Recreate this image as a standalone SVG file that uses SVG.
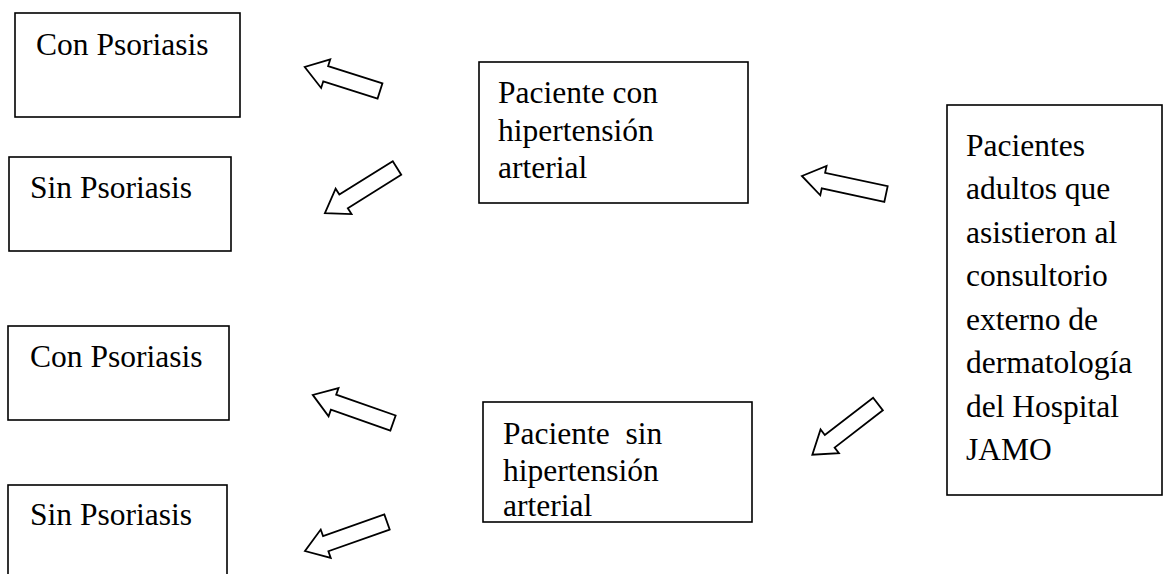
<svg xmlns="http://www.w3.org/2000/svg" width="1170" height="574" viewBox="0 0 1170 574">
<style>
.box{fill:#fff;stroke:#000;stroke-width:1.6}
.t{font-family:'Liberation Serif','Times New Roman',serif;font-size:31.5px;fill:#000}
.arr{fill:#fff;stroke:#000;stroke-width:1.8;stroke-linejoin:miter}
</style>
<rect width="1170" height="574" fill="#fff"/>
<g id="connectors">
<polygon class="arr" transform="translate(380,91) rotate(197.7)" points="0,-8 57,-8 57,-15 79,0 57,15 57,8 0,8"/>
<polygon class="arr" transform="translate(397,168) rotate(148)" points="0,-8 63,-8 63,-15 85,0 63,15 63,8 0,8"/>
<polygon class="arr" transform="translate(886,194) rotate(192.1)" points="0,-8 64,-8 64,-15 86,0 64,15 64,8 0,8"/>
<polygon class="arr" transform="translate(878,404) rotate(142.3)" points="0,-8 61,-8 61,-15 83,0 61,15 61,8 0,8"/>
<polygon class="arr" transform="translate(393,423) rotate(199.3)" points="0,-8 63,-8 63,-15 85,0 63,15 63,8 0,8"/>
<polygon class="arr" transform="translate(387,522) rotate(160.5)" points="0,-8 65,-8 65,-15 87,0 65,15 65,8 0,8"/>
</g>
<g id="con1"><rect class="box" x="15" y="13" width="225" height="104"/><text class="t" x="36" y="55">Con Psoriasis</text></g>
<g id="sin1"><rect class="box" x="9" y="157" width="222" height="94"/><text class="t" x="30" y="198">Sin Psoriasis</text></g>
<g id="con2"><rect class="box" x="8" y="326" width="221" height="94"/><text class="t" x="30" y="367">Con Psoriasis</text></g>
<g id="sin2"><rect class="box" x="8" y="485" width="219" height="100"/><text class="t" x="30" y="525">Sin Psoriasis</text></g>
<g id="hta"><rect class="box" x="479" y="62" width="269" height="141"/><text class="t" x="498" y="103">Paciente con</text><text class="t" x="498" y="141">hipertensión</text><text class="t" x="498" y="178">arterial</text></g>
<g id="nohta"><rect class="box" x="483" y="402" width="269" height="120"/><text class="t" x="503" y="444" xml:space="preserve">Paciente  sin</text><text class="t" x="503" y="481">hipertensión</text><text class="t" x="503" y="516">arterial</text></g>
<g id="pacientes"><rect class="box" x="947" y="105" width="215" height="390"/>
<text class="t" x="966" y="156">Pacientes</text>
<text class="t" x="966" y="199">adultos que</text>
<text class="t" x="966" y="243">asistieron al</text>
<text class="t" x="966" y="286">consultorio</text>
<text class="t" x="966" y="330">externo de</text>
<text class="t" x="966" y="373">dermatología</text>
<text class="t" x="966" y="417">del Hospital</text>
<text class="t" x="966" y="460">JAMO</text>
</g>
</svg>
